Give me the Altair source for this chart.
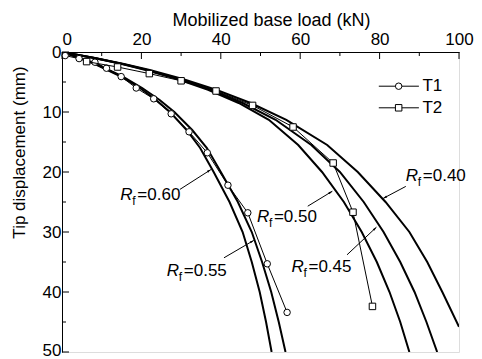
import math
import altair as alt
import pandas as pd

# ---------------- data ----------------
t1_load = [0.8, 4.3, 8.3, 11.2, 14.9, 18.7, 23.1, 27.5, 32.0, 36.6, 41.8, 46.8, 51.7, 56.7]
t1_disp = [0.6, 1.1, 1.7, 2.7, 4.1, 6.0, 7.8, 10.3, 13.3, 16.8, 22.2, 26.8, 35.3, 43.4]
t2_load = [6.2, 14.0, 22.0, 30.0, 38.8, 48.0, 58.2, 68.3, 73.3, 78.2]
t2_disp = [1.6, 2.5, 3.6, 4.8, 6.5, 8.9, 12.5, 18.5, 26.7, 42.4]

fit1_disp = [0, 1, 2, 4, 6, 8, 10, 13, 16, 20, 25, 30, 35, 40, 45, 50]
rf060_load = [0, 4.4, 8.3, 14.6, 19.6, 23.7, 27.2, 31.4, 34.8, 38.2, 42.2, 45.5, 47.8, 49.8, 51.4, 52.8]
rf055_load = [0, 4.5, 8.5, 15.0, 20.2, 24.6, 28.3, 32.8, 36.5, 40.0, 44.3, 47.8, 50.4, 52.7, 54.6, 56.3]

fit2_disp = [0, 1, 2, 3, 4.5, 6.3, 8.5, 11.3, 15.5, 20, 25, 30, 35, 40, 45, 50]
rf050_load = [0, 8.1, 15.1, 21.1, 29.0, 36.8, 44.5, 52.1, 59.5, 65.5, 71.0, 75.5, 79.3, 82.5, 85.2, 87.5]
rf045_load = [0, 8.2, 15.3, 21.5, 29.5, 37.5, 45.5, 53.8, 62.8, 70.0, 76.0, 81.0, 85.2, 88.8, 91.8, 94.5]
rf040_disp = [0, 1, 2, 3, 4.5, 6.3, 8.5, 11.3, 15.5, 20, 25, 30, 35, 40, 45.8]
rf040_load = [0, 8.3, 15.6, 22.1, 30.4, 38.8, 47.5, 56.5, 66.8, 74.5, 81.5, 87.5, 92.0, 95.8, 100.0]

# annotation labels: text anchor, arrow tail, arrow head (data units)
lab_text = ["=0.60", "=0.55", "=0.50", "=0.45", "=0.40"]
lab_x = [14.7, 26.4, 49.1, 57.8, 86.6]
lab_y = [24.7, 37.4, 28.4, 36.7, 21.5]
tail_x = [29.7, 40.8, 61.9, 71.8, 86.6]
tail_y = [22.9, 34.3, 25.7, 33.8, 22.4]
head_x = [37.5, 48.3, 68.1, 79.2, 80.9]
head_y = [19.6, 31.4, 23.2, 29.2, 24.4]

legend_names = ["T1", "T2"]
legend_y = [5.7, 9.3]
legend_line = [79.8, 89.9]
legend_mark = 84.8
legend_text = 90.8

x_major = [0, 20, 40, 60, 80, 100]
x_minor = [10, 30, 50, 70, 90]
y_major = [0, 10, 20, 30, 40, 50]
y_minor = [5, 15, 25, 35, 45]

# ---------------- layout ----------------
W, H = 397, 300
PX_X = W / 100.0
PX_Y = H / 50.0
FONT = "Liberation Sans"

def frame(load, disp, name):
    return pd.DataFrame({"load": load, "disp": disp, "curve": name, "i": range(len(load))})

curves = pd.concat([
    frame(rf060_load, fit1_disp, "0.60"),
    frame(rf055_load, fit1_disp, "0.55"),
    frame(rf050_load, fit2_disp, "0.50"),
    frame(rf045_load, fit2_disp, "0.45"),
    frame(rf040_load, rf040_disp, "0.40"),
])
t1 = frame(t1_load, t1_disp, "T1")
t2 = frame(t2_load, t2_disp, "T2")

angles = []
for tx, ty, hx, hy in zip(tail_x, tail_y, head_x, head_y):
    dx = (hx - tx) * PX_X
    dy = (hy - ty) * PX_Y
    angles.append(math.degrees(math.atan2(dx, -dy)) % 360)
labels = pd.DataFrame({"txt": lab_text, "load": lab_x, "disp": lab_y,
                       "tx": tail_x, "ty": tail_y, "hx": head_x, "hy": head_y, "ang": angles})

xs = alt.Scale(domain=[0, 100], nice=False, zero=False)
ys = alt.Scale(domain=[0, 50], nice=False, zero=False, reverse=True)

x_axis = alt.Axis(orient="top", values=x_major, title="Mobilized base load (kN)", ticks=False,
                  grid=False, domainColor="black", domainWidth=1, labelPadding=4,
                  labelFontSize=17, labelColor="black", labelFont=FONT, labelFlush=False,
                  labelAlign={"condition": {"test": "datum.value === 0", "value": "left"}, "value": "center"},
                  titleFontSize=18, titleFont=FONT, titleFontWeight="normal", titleColor="black",
                  titlePadding=1, titleX=209)
y_axis = alt.Axis(orient="left", values=y_major, title="Tip displacement (mm)", ticks=False,
                  grid=False, domainColor="black", domainWidth=1, labelPadding=1,
                  labelFontSize=17, labelColor="black", labelFont=FONT, labelFlush=False,
                  labelOffset={"condition": {"test": "datum.value === 50", "value": -2}, "value": 0},
                  titleFontSize=17, titleFont=FONT, titleFontWeight="normal", titleColor="black",
                  titleX=-38, titleY=100, titleBaseline="alphabetic", titleAlign="center")

def X(field="load"):
    return alt.X(f"{field}:Q", scale=xs, axis=x_axis, title="Mobilized base load (kN)")

def Y(field="disp"):
    return alt.Y(f"{field}:Q", scale=ys, axis=y_axis, title="Tip displacement (mm)")

curve_layer = alt.Chart(curves).mark_line(color="black", strokeWidth=2, clip=True).encode(
    x=X(), y=Y(), detail="curve:N", order="i:Q")

def data_layer(df, shape):
    ln = alt.Chart(df).mark_line(color="black", strokeWidth=1).encode(x=X(), y=Y(), order="i:Q")
    pt = alt.Chart(df).mark_point(shape=shape, size=42, filled=True, fill="white", stroke="black",
                                  strokeWidth=1, opacity=1).encode(x=X(), y=Y())
    return ln + pt

# ticks (inward)
xt_major = alt.Chart(pd.DataFrame({"load": x_major})).mark_rule(color="black", strokeWidth=1).encode(
    x=X(), y=alt.value(0), y2=alt.value(7))
xt_minor = alt.Chart(pd.DataFrame({"load": x_minor})).mark_rule(color="black", strokeWidth=1).encode(
    x=X(), y=alt.value(0), y2=alt.value(4))
yt_major = alt.Chart(pd.DataFrame({"disp": y_major})).mark_rule(color="black", strokeWidth=1).encode(
    y=Y(), x=alt.value(0), x2=alt.value(7))
yt_minor = alt.Chart(pd.DataFrame({"disp": y_minor})).mark_rule(color="black", strokeWidth=1).encode(
    y=Y(), x=alt.value(0), x2=alt.value(4))

# annotations
base = alt.Chart(labels)
r_txt = base.mark_text(text="R", font=FONT, fontSize=17, fontStyle="italic", align="left",
                       baseline="alphabetic", color="black").encode(x=X(), y=Y())
f_txt = base.mark_text(text="f", font=FONT, fontSize=12, align="left", baseline="alphabetic",
                       dx=12, dy=5, color="black").encode(x=X(), y=Y())
v_txt = base.mark_text(font=FONT, fontSize=17, align="left", baseline="alphabetic", dx=17,
                       color="black").encode(x=X(), y=Y(), text="txt:N")
arrow_line = base.mark_rule(color="black", strokeWidth=1).encode(
    x=X("tx"), y=Y("ty"), x2="hx:Q", y2="hy:Q")
arrow_head = base.mark_point(shape="M0,0L-0.55,2L0.55,2Z", size=16, filled=True, color="black",
                             opacity=1).encode(
    x=X("hx"), y=Y("hy"), angle=alt.Angle("ang:Q", scale=None))

# manual legend
leg = pd.DataFrame({"name": legend_names, "disp": legend_y, "x1": [legend_line[0]] * 2,
                    "x2": [legend_line[1]] * 2, "load": [legend_mark] * 2, "lt": [legend_text] * 2,
                    "shape": ["circle", "square"]})
leg_line = alt.Chart(leg).mark_rule(color="black", strokeWidth=1).encode(
    x=X("x1"), x2="x2:Q", y=Y())
leg_pt = alt.Chart(leg).mark_point(size=42, filled=True, fill="white", stroke="black", strokeWidth=1,
                                   opacity=1).encode(
    x=X(), y=Y(), shape=alt.Shape("shape:N", scale=None))
leg_txt = alt.Chart(leg).mark_text(font=FONT, fontSize=17, align="left", baseline="middle",
                                   color="black").encode(
    x=X("lt"), y=Y(), text="name:N")

chart = alt.layer(
    curve_layer,
    data_layer(t1, "circle"),
    data_layer(t2, "square"),
    xt_major, xt_minor, yt_major, yt_minor,
    arrow_line, arrow_head, r_txt, f_txt, v_txt,
    leg_line, leg_pt, leg_txt,
).properties(
    width=W, height=H,
    autosize=alt.AutoSizeParams(type="none"),
    padding={"left": 54, "top": 44, "right": 15, "bottom": 7},
).configure_view(stroke=None).configure(font=FONT, background="white")

chart.save("out.html", embed_options={"renderer": "svg", "actions": False})
